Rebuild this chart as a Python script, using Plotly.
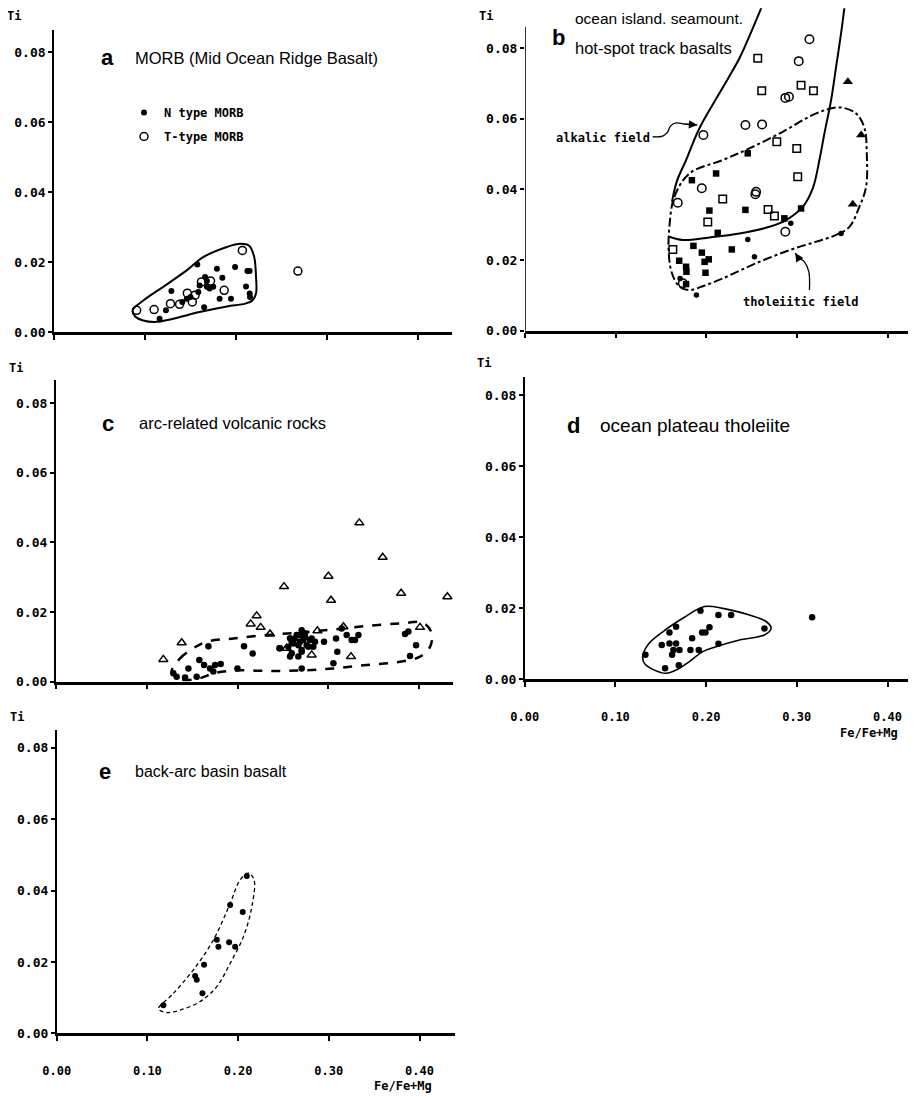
import plotly.graph_objects as go

# The page body has an 8px margin, so the figure is placed at (8, 8) of the 916x1097 window.
OFF = 8
W, H = 916 - OFF, 1097 - OFF

# ---------------- Panel a : MORB ----------------
a_n_x = [0.116, 0.123, 0.129, 0.141, 0.146, 0.150, 0.1575, 0.1586, 0.165, 0.166, 0.168, 0.171,
         0.175, 0.179, 0.182, 0.185, 0.1945, 0.199, 0.211, 0.2125, 0.215, 0.215, 0.2154, 0.168, 0.160]
a_n_y = [0.0038, 0.0062, 0.0117, 0.0086, 0.0095, 0.0100, 0.0193, 0.0114, 0.0071, 0.0157, 0.0129, 0.0124,
         0.0129, 0.0181, 0.0095, 0.0155, 0.0095, 0.0186, 0.0130, 0.0174, 0.0174, 0.0110, 0.0100, 0.0146, 0.0133]
a_t_x = [0.0908, 0.110, 0.128, 0.138, 0.1465, 0.152, 0.155, 0.162, 0.172, 0.187, 0.207, 0.268]
a_t_y = [0.0062, 0.0064, 0.0081, 0.0079, 0.0111, 0.0086, 0.0105, 0.0143, 0.0146, 0.0119, 0.0233, 0.0174]
a_env_x = [0.0864, 0.0982, 0.120, 0.1458, 0.164, 0.190, 0.2044, 0.2147, 0.220, 0.222, 0.222, 0.218,
           0.210, 0.190, 0.160, 0.131, 0.113, 0.098, 0.089, 0.0864]
a_env_y = [0.0062, 0.0090, 0.0129, 0.0176, 0.0214, 0.0243, 0.0252, 0.0246, 0.0214, 0.0157, 0.0110, 0.0090,
           0.0081, 0.0073, 0.0057, 0.0038, 0.0029, 0.0033, 0.0045, 0.0062]

# ---------------- Panel b : ocean island basalts ----------------
b_oc_x = [0.3136, 0.3018, 0.287, 0.291, 0.243, 0.2614, 0.1967, 0.1949, 0.2548, 0.254, 0.1684, 0.287, 0.174]
b_oc_y = [0.0825, 0.0763, 0.0659, 0.0662, 0.0582, 0.0584, 0.0554, 0.0403, 0.0393, 0.0386, 0.0362, 0.0280, 0.0134]
b_os_x = [0.2566, 0.261, 0.3044, 0.318, 0.2776, 0.2996, 0.3007, 0.218, 0.268, 0.275, 0.2015, 0.163]
b_os_y = [0.0771, 0.0679, 0.0695, 0.0679, 0.0535, 0.0516, 0.0436, 0.0373, 0.0343, 0.0325, 0.0308, 0.0230]
b_fs_x = [0.2456, 0.184, 0.2107, 0.2033, 0.243, 0.2125, 0.286, 0.3044, 0.1857, 0.195, 0.2026, 0.198,
          0.228, 0.170, 0.1776, 0.178, 0.199, 0.1776]
b_fs_y = [0.0502, 0.0426, 0.0445, 0.0340, 0.0342, 0.0277, 0.0318, 0.0346, 0.0240, 0.0221, 0.0202, 0.0195,
          0.0230, 0.0198, 0.0181, 0.0167, 0.0164, 0.0132]
b_fc_x = [0.2456, 0.253, 0.293, 0.3485, 0.189, 0.171]
b_fc_y = [0.0258, 0.0209, 0.0304, 0.0275, 0.0101, 0.0148]
b_ft_x = [0.356, 0.3706, 0.3614]
b_ft_y = [0.0705, 0.0554, 0.0358]
b_alk1_x = [0.1621, 0.1673, 0.1776, 0.1923, 0.2143, 0.2364, 0.2511, 0.2614]
b_alk1_y = [0.0365, 0.0422, 0.0483, 0.0573, 0.0672, 0.0771, 0.0856, 0.0919]
b_alk2_x = [0.1592, 0.1739, 0.2033, 0.2364, 0.2695, 0.2879, 0.3063, 0.3173, 0.3246, 0.3301, 0.3375,
            0.343, 0.3485, 0.3522]
b_alk2_y = [0.0266, 0.0257, 0.0264, 0.0275, 0.0294, 0.0313, 0.0351, 0.0403, 0.0483, 0.0558, 0.0653,
            0.0747, 0.0842, 0.0915]
b_thol_x = [0.1592, 0.1647, 0.1813, 0.218, 0.2474, 0.2842, 0.321, 0.3467, 0.365, 0.3743, 0.3768, 0.3761,
            0.3687, 0.3577, 0.343, 0.321, 0.2915, 0.2548, 0.218, 0.196, 0.1813, 0.1702, 0.1621, 0.1585, 0.1592]
b_thol_y = [0.0294, 0.0379, 0.0445, 0.0483, 0.0516, 0.0563, 0.0615, 0.0632, 0.0615, 0.0573, 0.0502, 0.0408,
            0.0351, 0.0294, 0.0271, 0.0252, 0.0228, 0.0191, 0.0148, 0.0126, 0.0115, 0.0125, 0.0162, 0.0219, 0.0294]
b_arr_alk_x = [0.1408, 0.1518, 0.1574, 0.1603, 0.1665, 0.1757, 0.1900]
b_arr_alk_y = [0.0549, 0.0551, 0.0563, 0.0579, 0.0588, 0.0585, 0.0582]
b_arr_thol_x = [0.3136, 0.3129, 0.3081, 0.3007, 0.2980]
b_arr_thol_y = [0.0115, 0.0167, 0.0195, 0.0209, 0.0220]

# ---------------- Panel c : arc-related ----------------
c_ot_x = [0.1184, 0.1386, 0.2145, 0.2211, 0.2255, 0.2358, 0.2512, 0.254, 0.2816, 0.2879, 0.300, 0.3029,
          0.3165, 0.3249, 0.334, 0.3597, 0.380, 0.4008, 0.4309]
c_ot_y = [0.0064, 0.0112, 0.0166, 0.0189, 0.0156, 0.0137, 0.0273, 0.0096, 0.0077, 0.0146, 0.0303, 0.0234,
          0.0158, 0.0072, 0.0456, 0.0357, 0.0254, 0.0156, 0.0244]
c_fc_x = [0.1294, 0.1331, 0.1423, 0.146, 0.1551, 0.158, 0.1632, 0.168, 0.1698, 0.1734, 0.1753, 0.1815,
          0.1999, 0.2072, 0.2167, 0.2461, 0.2578, 0.2596, 0.2633, 0.267, 0.2688, 0.2706, 0.2725, 0.2743,
          0.278, 0.2816, 0.2853, 0.2706, 0.2952, 0.3084, 0.3098, 0.3055, 0.3201, 0.3256, 0.333, 0.3843,
          0.388, 0.3964, 0.3898,
          0.2578, 0.2614, 0.2651, 0.2688, 0.2706, 0.2743, 0.2761, 0.2798, 0.2834, 0.2669, 0.2596, 0.2559,
          0.2706, 0.2468, 0.3146, 0.3293]
c_fc_y = [0.0024, 0.0014, 0.0012, 0.0038, 0.0014, 0.0062, 0.0048, 0.0102, 0.0038, 0.0029, 0.0048, 0.0051,
          0.0038, 0.0102, 0.0081, 0.0096, 0.0072, 0.0115, 0.0124, 0.0105, 0.0134, 0.0086, 0.0120, 0.0139,
          0.0100, 0.0124, 0.0115, 0.0038, 0.0115, 0.0124, 0.0086, 0.0053, 0.0134, 0.0120, 0.0134, 0.0137,
          0.0144, 0.0105, 0.0074,
          0.0125, 0.0110, 0.0134, 0.0115, 0.0091, 0.0129, 0.0105, 0.0120, 0.0100, 0.0072, 0.0082, 0.0100,
          0.0148, 0.0096, 0.0153, 0.0120]
c_env_x = [0.1276, 0.1368, 0.1514, 0.1661, 0.1955, 0.2321, 0.2688, 0.3055, 0.3421, 0.3788, 0.4045, 0.4136,
           0.4118, 0.4008, 0.3788, 0.3421, 0.3055, 0.2688, 0.2321, 0.1955, 0.1735, 0.1588, 0.1368, 0.1276]
c_env_y = [0.0029, 0.0067, 0.0096, 0.0115, 0.0124, 0.0134, 0.0141, 0.0150, 0.0160, 0.0167, 0.0169, 0.0139,
           0.0100, 0.0072, 0.0057, 0.0048, 0.0038, 0.0032, 0.0031, 0.0032, 0.0024, 0.0010, 0.0007, 0.0029]

# ---------------- Panel d : ocean plateau tholeiite ----------------
d_fc_x = [0.1331, 0.1511, 0.1548, 0.1596, 0.1596, 0.1625, 0.164, 0.1669, 0.1669, 0.1699, 0.1706, 0.1827,
          0.1846, 0.1919, 0.1938, 0.1956, 0.1993, 0.2037, 0.2136, 0.2136, 0.2276, 0.2643, 0.3169]
d_fc_y = [0.0068, 0.0096, 0.0030, 0.0131, 0.0100, 0.0068, 0.0082, 0.0147, 0.0100, 0.0039, 0.0082, 0.0082,
          0.0115, 0.0082, 0.0192, 0.0131, 0.0131, 0.0146, 0.0180, 0.0099, 0.0180, 0.0142, 0.0174]
d_env_x = [0.1301, 0.1357, 0.1522, 0.1743, 0.1982, 0.2184, 0.2478, 0.2662, 0.2717, 0.2643, 0.2368, 0.211,
           0.1963, 0.1816, 0.1669, 0.1559, 0.143, 0.132, 0.1301]
d_env_y = [0.0063, 0.0096, 0.0133, 0.0171, 0.0204, 0.0199, 0.0180, 0.0162, 0.0143, 0.0124, 0.0110, 0.0091,
           0.0077, 0.0049, 0.0025, 0.0016, 0.0025, 0.0044, 0.0063]

# ---------------- Panel e : back-arc basin basalt ----------------
e_fc_x = [0.1176, 0.1526, 0.1544, 0.1607, 0.1625, 0.1765, 0.1783, 0.1901, 0.1912, 0.1967, 0.2051, 0.2096]
e_fc_y = [0.0079, 0.0161, 0.0150, 0.0112, 0.0192, 0.0262, 0.0243, 0.0255, 0.0360, 0.0243, 0.0340, 0.0441]
e_env_x = [0.1121, 0.1287, 0.1507, 0.1728, 0.1912, 0.2022, 0.2114, 0.2176, 0.2151, 0.2059, 0.1912, 0.1765,
           0.1581, 0.136, 0.1213, 0.1132, 0.1121]
e_env_y = [0.0070, 0.0112, 0.0178, 0.0262, 0.0364, 0.0430, 0.0449, 0.0430, 0.0355, 0.0271, 0.0196, 0.0131,
           0.0089, 0.0065, 0.0058, 0.0065, 0.0070]

y_ticks = [0.0, 0.02, 0.04, 0.06, 0.08]
y_tick_text = ["0.00", "0.02", "0.04", "0.06", "0.08"]
x_ticks = [0.0, 0.1, 0.2, 0.3, 0.4]
x_tick_text = ["0.00", "0.10", "0.20", "0.30", "0.40"]

# panel geometry (window pixels): origin (x0, y0), px per unit (sx, sy), axis extents
panels = {
    "a": dict(x0=54, y0=332, sx=910, sy=3500, xmax=0.437, ymax=0.0863, labels=False),
    "b": dict(x0=525, y0=330.7, sx=907, sy=3533, xmax=0.431, ymax=0.0913, labels=False),
    "c": dict(x0=55.7, y0=681.7, sx=909, sy=3483, xmax=0.4374, ymax=0.0866, labels=False),
    "d": dict(x0=524.7, y0=679, sx=907, sy=3550, xmax=0.4314, ymax=0.0852, labels=True),
    "e": dict(x0=56.7, y0=1033.3, sx=907, sy=3567, xmax=0.439, ymax=0.085, labels=True),
}
axis_ids = {"a": ("x", "y"), "b": ("x2", "y2"), "c": ("x3", "y3"), "d": ("x4", "y4"), "e": ("x5", "y5")}


def px(x):
    return (x - OFF) / W


def py(y):
    return 1 - (y - OFF) / H


fig = go.Figure()


def mk(symbol, size, filled=True):
    if filled:
        return dict(symbol=symbol, size=size, color="black", line=dict(width=0))
    return dict(symbol=symbol, size=size, color="black", line=dict(width=1.5, color="black"))


def pts(p, xs, ys, marker, name=None, legend=False):
    xa, ya = axis_ids[p]
    fig.add_trace(go.Scatter(x=xs, y=ys, mode="markers", marker=marker, xaxis=xa, yaxis=ya,
                             name=name, showlegend=legend, legendgroup=name, cliponaxis=False))


def curve(p, xs, ys, width=2.0, dash="solid"):
    xa, ya = axis_ids[p]
    fig.add_trace(go.Scatter(x=xs, y=ys, mode="lines", line=dict(color="black", width=width, dash=dash,
                             shape="spline", smoothing=1.0), xaxis=xa, yaxis=ya, showlegend=False,
                             hoverinfo="skip"))


# panel a
pts("a", a_n_x, a_n_y, mk("circle", 6), name="N type MORB", legend=True)
pts("a", a_t_x, a_t_y, mk("circle-open", 8, False), name="T-type MORB", legend=True)
curve("a", a_env_x, a_env_y, 2.0)

# panel b
curve("b", b_alk1_x, b_alk1_y, 2.0)
curve("b", b_alk2_x, b_alk2_y, 2.0)
curve("b", b_thol_x, b_thol_y, 2.0, "dashdot")
curve("b", b_arr_alk_x, b_arr_alk_y, 1.3)
curve("b", b_arr_thol_x, b_arr_thol_y, 1.3)
pts("b", b_oc_x, b_oc_y, mk("circle-open", 8.5, False))
pts("b", b_os_x, b_os_y, mk("square-open", 7.5, False))
pts("b", b_fs_x, b_fs_y, mk("square", 6.5))
pts("b", b_fc_x, b_fc_y, mk("circle", 5.5))
pts("b", b_ft_x, b_ft_y, mk("triangle-up", 9))

# panel c
curve("c", c_env_x, c_env_y, 2.5, "dash")
pts("c", c_fc_x, c_fc_y, mk("circle", 6.5))
pts("c", c_ot_x, c_ot_y, mk("triangle-up-open", 8, False))

# panel d
curve("d", d_env_x, d_env_y, 1.6)
pts("d", d_fc_x, d_fc_y, mk("circle", 6.5))

# panel e
curve("e", e_env_x, e_env_y, 1.3, "4px,3px")
pts("e", e_fc_x, e_fc_y, mk("circle", 6))

MONO = "DejaVu Sans Mono"
layout = dict(width=W, height=H, margin=dict(l=0, r=0, t=0, b=0, autoexpand=False), paper_bgcolor="white",
              plot_bgcolor="white", showlegend=True)

for p, g in panels.items():
    xa, ya = axis_ids[p]
    xd = [max(0.0, px(g["x0"])), min(1.0, px(g["x0"] + g["xmax"] * g["sx"]))]
    yd = [max(0.0, py(g["y0"])), min(1.0, py(g["y0"] - g["ymax"] * g["sy"]))]
    xkey = "xaxis" if xa == "x" else "xaxis" + xa[1:]
    ykey = "yaxis" if ya == "y" else "yaxis" + ya[1:]
    layout[xkey] = dict(domain=xd, range=[0, g["xmax"]], anchor=ya, showgrid=False, zeroline=False,
                        showline=True, linewidth=2.5, linecolor="black", ticks="outside", ticklen=5,
                        tickwidth=1.5, tickcolor="black", tickvals=x_ticks, ticktext=x_tick_text,
                        showticklabels=g["labels"], ticklabelstandoff=20, automargin=False,
                        tickfont=dict(family=MONO, size=12, color="black", weight="bold"), fixedrange=True)
    layout[ykey] = dict(domain=yd, range=[0, g["ymax"]], anchor=xa, showgrid=False, zeroline=False,
                        showline=(p != "b"), linewidth=1.6, linecolor="black", ticks="outside", ticklen=4,
                        tickwidth=1.5, tickcolor="black", tickvals=y_ticks, ticktext=y_tick_text,
                        automargin=False,
                        tickfont=dict(family=MONO, size=13, color="black", weight="bold"), fixedrange=True)

layout["legend"] = dict(x=px(124), y=py(98), xanchor="left", yanchor="top", bgcolor="rgba(0,0,0,0)",
                        font=dict(family=MONO, size=12, color="black", weight="bold"),
                        tracegroupgap=5, itemsizing="trace")

SANS = "Liberation Sans"
ann = []


def txt(x, y, s, size, family, bold=False, xanchor="left"):
    ann.append(dict(x=px(x), y=py(y), xref="paper", yref="paper", text=s, showarrow=False,
                    xanchor=xanchor, yanchor="middle",
                    font=dict(family=family, size=size, color="black", weight="bold" if bold else "normal")))


# panel letters and titles
txt(107, 58, "a", 22, SANS, True, "center")
txt(133, 58, "MORB (Mid Ocean Ridge Basalt)", 16.5, SANS)
txt(558, 37, "b", 22, SANS, True, "center")
txt(573, 19, "ocean island. seamount.", 15.5, SANS)
txt(573, 48, "hot-spot track basalts", 16.5, SANS)
txt(108, 423, "c", 22, SANS, True, "center")
txt(137, 423, "arc-related volcanic rocks", 16.5, SANS)
txt(573, 425, "d", 22, SANS, True, "center")
txt(598, 425, "ocean plateau tholeiite", 19, SANS)
txt(105, 772, "e", 22, SANS, True, "center")
txt(133, 772, "back-arc basin basalt", 16, SANS)

# Ti labels
for (x, y) in [(14, 16), (486, 16), (16, 368), (484, 363), (17, 717)]:
    txt(x, y, "Ti", 12, MONO, True, "center")
# Fe/Fe+Mg labels
txt(869, 733, "Fe/Fe+Mg", 12, MONO, True, "center")
txt(403, 1086, "Fe/Fe+Mg", 12, MONO, True, "center")

# field labels in panel b
ann.append(dict(x=0.0864, y=0.0546, xref="x2", yref="y2", text="alkalic field", showarrow=False,
                font=dict(family=MONO, size=12, color="black", weight="bold")))
ann.append(dict(x=0.3048, y=0.0082, xref="x2", yref="y2", text="tholeiitic field", showarrow=False,
                font=dict(family=MONO, size=12, color="black", weight="bold")))
# arrow heads
ann.append(dict(x=b_arr_alk_x[-1], y=b_arr_alk_y[-1], ax=b_arr_alk_x[-2], ay=b_arr_alk_y[-2],
                xref="x2", yref="y2", axref="x2", ayref="y2", text="", showarrow=True,
                arrowhead=2, arrowsize=1.3, arrowwidth=1.3, arrowcolor="black"))
ann.append(dict(x=b_arr_thol_x[-1], y=b_arr_thol_y[-1], ax=b_arr_thol_x[-2], ay=b_arr_thol_y[-2],
                xref="x2", yref="y2", axref="x2", ayref="y2", text="", showarrow=True,
                arrowhead=2, arrowsize=1.3, arrowwidth=1.3, arrowcolor="black"))
layout["annotations"] = ann

# y-axis line of panel b (stops near the top tick while the field curves run above)
layout["shapes"] = [dict(type="line", xref="x2", yref="y2", x0=0, x1=0, y0=0, y1=0.086,
                         line=dict(color="black", width=1.6))]

fig.update_layout(**layout)
fig.write_html("out.html")
